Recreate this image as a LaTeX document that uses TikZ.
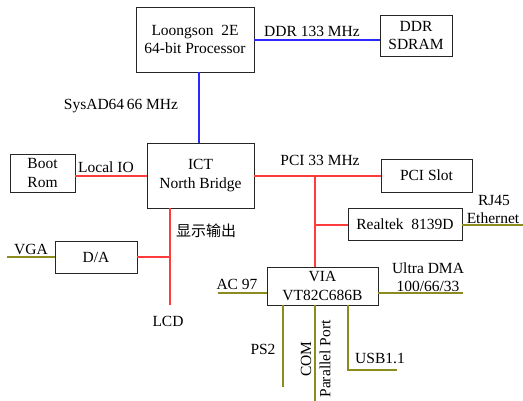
\documentclass[tikz,border=0pt]{standalone}
\usepackage{fontspec}
\setmainfont{Liberation Serif}
\newfontfamily\cjk{Noto Sans CJK SC}
\definecolor{busblue}{RGB}{40,40,255}
\definecolor{busred}{RGB}{255,60,60}
\definecolor{busolive}{RGB}{140,140,30}
\begin{document}
\begin{tikzpicture}[x=1pt,y=-1pt,
  blk/.style={draw=black!85,line width=0.9pt,inner sep=0pt,align=center,font=\fontsize{15.5}{18.6}\selectfont},
  lbl/.style={inner sep=0pt,align=center,font=\fontsize{15.5}{18}\selectfont},
  bb/.style={busblue,line width=1.4pt},
  rb/.style={busred,line width=1.4pt},
  ob/.style={busolive,line width=1.4pt}]
\useasboundingbox (0,0) rectangle (523,401);
% boxes
\node[blk,minimum width=118pt,minimum height=65pt] (cpu) at (195,39.5) {Loongson\ \ 2E\\64-bit Processor};
\node[blk,minimum width=72pt,minimum height=41pt] (ddr) at (416,35.5) {DDR\\SDRAM};
\node[blk,minimum width=107pt,minimum height=65pt] (nb) at (200.5,175.5) {ICT\\North Bridge};
\node[blk,minimum width=65pt,minimum height=38pt] (rom) at (42.5,173) {Boot\\Rom};
\node[blk,minimum width=91pt,minimum height=33pt] (pci) at (426.5,175.5) {PCI Slot};
\node[blk,minimum width=114pt,minimum height=32pt] (rtl) at (405,224) {Realtek\ \ 8139D};
\node[blk,minimum width=82pt,minimum height=32pt] (da) at (96,257) {D/A};
\node[blk,minimum width=111pt,minimum height=38pt] (via) at (322.5,286) {VIA\\VT82C686B};
% coordinates
\coordinate (ddrl) at (254,40);
\coordinate (sa) at (199,72);
\coordinate (lio) at (147,176);
\coordinate (pcil) at (254,176);
\coordinate (pj) at (315,176);
\coordinate (rj) at (315,225);
\coordinate (dj) at (170,257);
\coordinate (nbv) at (170,208);
\coordinate (lcd) at (170,305);
\coordinate (vga) at (7,257);
\coordinate (eth) at (523,225);
\coordinate (ac) at (218,293);
\coordinate (ud) at (463,293);
\coordinate (ps2a) at (283,305);
\coordinate (ps2b) at (283,387);
\coordinate (coma) at (315,305);
\coordinate (comb) at (315,401);
\coordinate (usba) at (348,305);
\coordinate (usbb) at (348,370);
\coordinate (usbc) at (397,370);
% blue buses
\draw[bb] (ddrl) -- (ddrl -| ddr.west);
\draw[bb] (sa) -- (sa |- nb.north);
% red buses
\draw[rb] (rom.east |- lio) -- (lio);
\draw[rb] (pcil) -- (pcil -| pci.west);
\draw[rb] (pj) -- (pj |- via.north);
\draw[rb] (rj) -- (rj -| rtl.west);
\draw[rb] (nbv) -- (lcd);
\draw[rb] (da.east |- dj) -- (dj);
% olive lines
\draw[ob] (vga) -- (vga -| da.west);
\draw[ob] (rtl.east |- eth) -- (eth);
\draw[ob] (ac) -- (ac -| via.west);
\draw[ob] (via.east |- ud) -- (ud);
\draw[ob] (ps2a) -- (ps2b);
\draw[ob] (coma) -- (comb);
\draw[ob] (usba) -- (usbb) -- (usbc);
% labels
\node[lbl] (l1) at (312,31) {DDR 133 MHz};
\node[lbl] (l2) at (121,106) {SysAD64\,66 MHz};
\node[lbl] (l3) at (106,167) {Local IO};
\node[lbl] (l4) at (320,160) {PCI 33 MHz};
\node[lbl] (l5) at (494,200) {RJ45};
\node[lbl] (l6) at (493,218) {Ethernet};
\node[lbl,font=\cjk\fontsize{15}{18}\selectfont] (l7) at (206,231) {显示输出};
\node[lbl] (l8) at (31,249) {VGA};
\node[lbl] (l9) at (168,321) {LCD};
\node[lbl] (l10) at (237,284) {AC 97};
\node[lbl] (l11) at (428,268) {Ultra DMA};
\node[lbl] (l12) at (428,286) {100/66/33};
\node[lbl] (l13) at (263,349) {PS2};
\node[lbl,rotate=90] (l14) at (306,359) {COM};
\node[lbl,rotate=90] (l15) at (325,359) {Parallel Port};
\node[lbl] (l16) at (380,358) {USB1.1};
\end{tikzpicture}
\end{document}
